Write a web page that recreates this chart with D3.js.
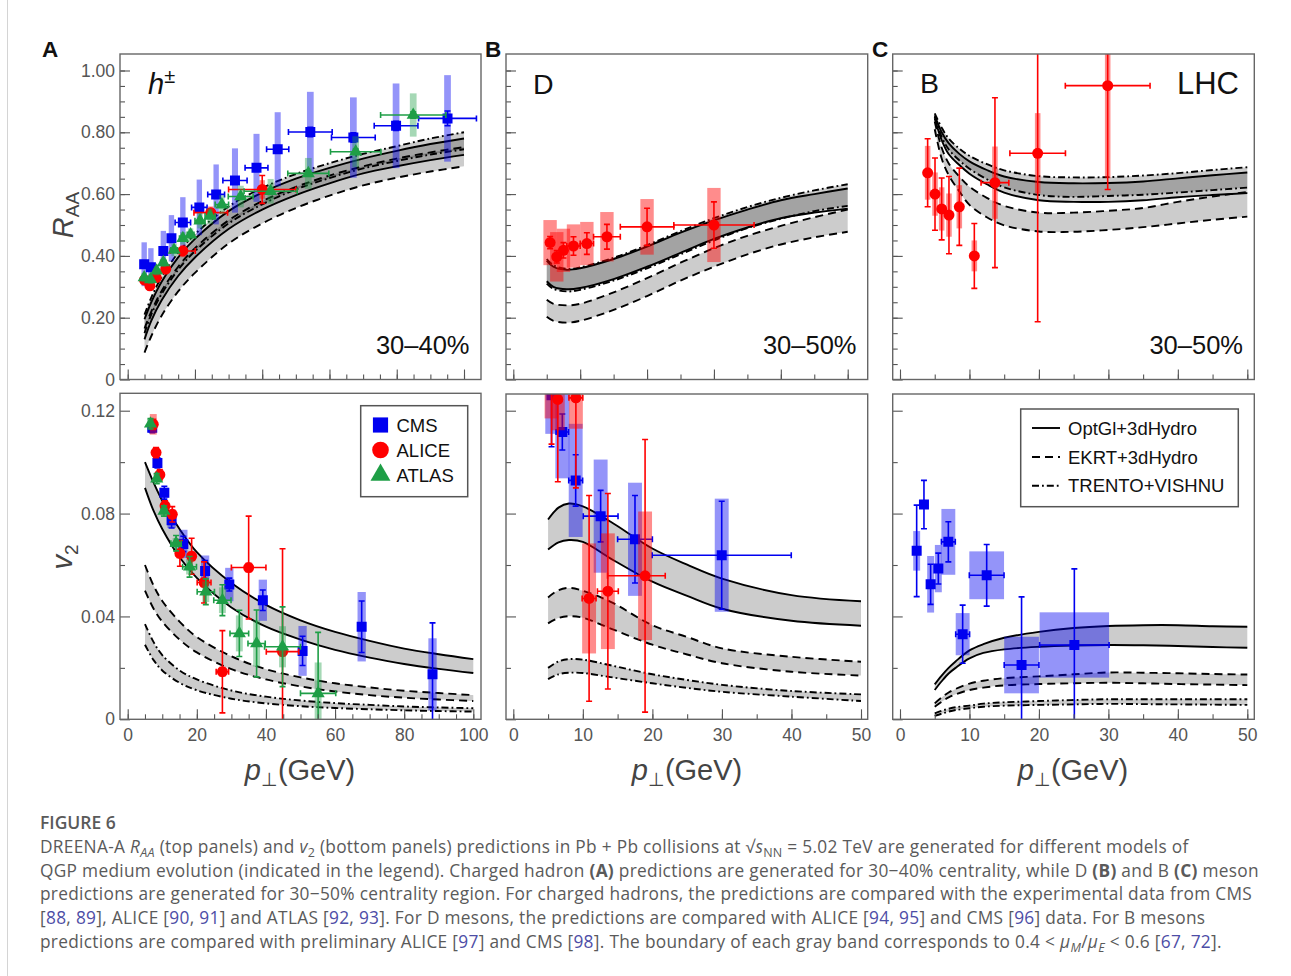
<!DOCTYPE html>
<html>
<head>
<meta charset="utf-8">
<script src="https://cdn.jsdelivr.net/npm/d3@7"></script>
<style>
  body { margin: 0; background: #fff; }
  svg { display: block; }
</style>
</head>
<body>
<svg id="fig" width="1291" height="976"></svg>
<script>
'use strict';

// ---------- model curves ----------
// charged hadrons, R_AA, 30-40%
const hRaaPt = [5, 7, 10, 15, 20, 30, 40, 50, 60, 70, 80, 90, 100];
const hRaaOptHi = [0.195, 0.25, 0.315, 0.395, 0.455, 0.545, 0.605, 0.65, 0.685, 0.715, 0.74, 0.762, 0.78];
const hRaaOptLo = [0.13, 0.19, 0.255, 0.335, 0.395, 0.487, 0.55, 0.597, 0.635, 0.667, 0.69, 0.71, 0.727];
const hRaaEkrtHi = [0.165, 0.22, 0.285, 0.365, 0.425, 0.515, 0.577, 0.623, 0.66, 0.69, 0.715, 0.735, 0.752];
const hRaaEkrtLo = [0.087, 0.14, 0.205, 0.285, 0.345, 0.44, 0.505, 0.555, 0.595, 0.628, 0.653, 0.673, 0.69];
const hRaaTrentoHi = [0.21, 0.265, 0.33, 0.41, 0.47, 0.56, 0.62, 0.665, 0.70, 0.73, 0.755, 0.78, 0.80];
const hRaaTrentoLo = [0.15, 0.21, 0.275, 0.355, 0.415, 0.505, 0.567, 0.615, 0.652, 0.683, 0.707, 0.728, 0.745];

// charged hadrons, v2
const hV2Pt = [5, 7.5, 10, 15, 20, 30, 40, 50, 60, 70, 80, 90, 100];
const hV2OptHi = [0.100, 0.092, 0.085, 0.074, 0.065, 0.053, 0.0445, 0.0385, 0.034, 0.0305, 0.0275, 0.0253, 0.0234];
const hV2OptLo = [0.090, 0.081, 0.074, 0.063, 0.055, 0.0435, 0.036, 0.031, 0.027, 0.024, 0.0215, 0.0196, 0.018];
const hV2EkrtHi = [0.060, 0.052, 0.046, 0.038, 0.032, 0.0245, 0.0195, 0.0163, 0.014, 0.0124, 0.0111, 0.0102, 0.0094];
const hV2EkrtLo = [0.050, 0.043, 0.038, 0.031, 0.026, 0.0195, 0.0155, 0.0128, 0.0108, 0.0094, 0.0084, 0.0077, 0.0071];
const hV2TrentoHi = [0.037, 0.030, 0.025, 0.019, 0.0155, 0.0112, 0.0088, 0.0073, 0.0063, 0.0056, 0.005, 0.0046, 0.0043];
const hV2TrentoLo = [0.029, 0.023, 0.019, 0.0142, 0.0113, 0.008, 0.0062, 0.0051, 0.0044, 0.0039, 0.0035, 0.0032, 0.003];

// D mesons, R_AA, 30-50%
const dRaaPt = [5, 6, 8, 10, 15, 20, 25, 30, 35, 40, 45, 50];
const dRaaOptHi = [0.385, 0.365, 0.355, 0.36, 0.39, 0.43, 0.475, 0.515, 0.55, 0.58, 0.60, 0.618];
const dRaaOptLo = [0.318, 0.30, 0.292, 0.296, 0.325, 0.365, 0.41, 0.455, 0.492, 0.522, 0.54, 0.553];
const dRaaEkrtHi = [0.258, 0.245, 0.24, 0.245, 0.282, 0.328, 0.378, 0.425, 0.465, 0.497, 0.525, 0.55];
const dRaaEkrtLo = [0.203, 0.19, 0.184, 0.19, 0.225, 0.27, 0.32, 0.365, 0.405, 0.437, 0.46, 0.478];
const dRaaTrentoHi = [0.39, 0.37, 0.358, 0.363, 0.394, 0.435, 0.48, 0.522, 0.558, 0.588, 0.612, 0.632];
const dRaaTrentoLo = [0.31, 0.293, 0.285, 0.29, 0.32, 0.36, 0.405, 0.45, 0.49, 0.52, 0.545, 0.562];

// D mesons, v2
const dV2Pt = [5, 6.5, 8, 10, 14, 20, 25, 30, 40, 50];
const dV2OptHi = [0.0777, 0.0823, 0.0839, 0.0828, 0.0768, 0.0664, 0.0601, 0.0547, 0.0483, 0.0459];
const dV2OptLo = [0.066, 0.0688, 0.0697, 0.069, 0.0625, 0.0535, 0.048, 0.043, 0.0383, 0.0364];
const dV2EkrtHi = [0.0474, 0.0502, 0.0511, 0.050, 0.0457, 0.0366, 0.032, 0.0276, 0.0243, 0.0224];
const dV2EkrtLo = [0.0373, 0.0394, 0.0401, 0.0395, 0.0353, 0.029, 0.0252, 0.0218, 0.0185, 0.017];
const dV2TrentoHi = [0.020, 0.0225, 0.0234, 0.0232, 0.021, 0.0175, 0.0153, 0.0134, 0.011, 0.0097];
const dV2TrentoLo = [0.0156, 0.0175, 0.0181, 0.018, 0.0164, 0.014, 0.0122, 0.0107, 0.0088, 0.0071];

// B mesons, R_AA, 30-50%
const bRaaPt = [5, 6, 7, 8.5, 10, 12.5, 15, 20, 25, 30, 35, 40, 45, 50];
const bRaaOptHi = [0.855, 0.80, 0.765, 0.731, 0.706, 0.678, 0.657, 0.639, 0.635, 0.636, 0.641, 0.651, 0.661, 0.670];
const bRaaOptLo = [0.845, 0.775, 0.73, 0.695, 0.666, 0.632, 0.605, 0.580, 0.575, 0.575, 0.580, 0.590, 0.597, 0.603];
const bRaaEkrtHi = [0.835, 0.75, 0.70, 0.658, 0.624, 0.588, 0.562, 0.540, 0.540, 0.546, 0.555, 0.575, 0.592, 0.607];
const bRaaEkrtLo = [0.81, 0.715, 0.662, 0.610, 0.565, 0.525, 0.499, 0.479, 0.478, 0.484, 0.493, 0.505, 0.517, 0.527];
const bRaaTrentoHi = [0.861, 0.815, 0.78, 0.748, 0.724, 0.697, 0.677, 0.658, 0.654, 0.655, 0.66, 0.668, 0.678, 0.687];
const bRaaTrentoLo = [0.85, 0.785, 0.745, 0.71, 0.682, 0.648, 0.622, 0.597, 0.591, 0.594, 0.598, 0.605, 0.613, 0.621];

// B mesons, v2
const bV2Pt = [5, 6, 7, 8, 10, 12, 15, 20, 25, 30, 35, 40, 45, 50];
const bV2OptHi = [0.0136, 0.017, 0.020, 0.0225, 0.0268, 0.0292, 0.0317, 0.034, 0.0355, 0.0363, 0.0366, 0.0366, 0.0362, 0.036];
const bV2OptLo = [0.0114, 0.0148, 0.0178, 0.020, 0.0237, 0.0258, 0.0272, 0.0282, 0.0287, 0.0289, 0.0288, 0.0285, 0.0281, 0.0278];
const bV2EkrtHi = [0.0062, 0.0085, 0.0104, 0.0118, 0.0139, 0.015, 0.016, 0.0167, 0.0175, 0.0182, 0.0181, 0.0179, 0.0176, 0.0174];
const bV2EkrtLo = [0.0049, 0.0068, 0.0085, 0.0097, 0.0114, 0.0123, 0.0132, 0.0137, 0.014, 0.0142, 0.014, 0.0137, 0.0135, 0.0133];
const bV2TrentoHi = [0.0023, 0.0033, 0.0041, 0.0047, 0.0053, 0.0061, 0.0066, 0.0071, 0.0075, 0.0078, 0.0078, 0.0078, 0.0078, 0.0078];
const bV2TrentoLo = [0.0013, 0.0022, 0.003, 0.0036, 0.0043, 0.0049, 0.0053, 0.0056, 0.0058, 0.006, 0.0059, 0.0058, 0.0057, 0.0056];

// ---------- experimental points ----------
// row: [pt, value, xerr low, xerr high, stat err, sys err, sys box half width (GeV)]
const hRaaCms = [
  [4.9, 0.373, 0.5, 0.5, 0.005, 0.071, 0.8], [6.9, 0.363, 0.5, 0.5, 0.005, 0.062, 0.8],
  [10.6, 0.416, 1, 1, 0.006, 0.065, 0.8], [13, 0.457, 1, 1, 0.006, 0.075, 0.8],
  [16.4, 0.508, 2.3, 2.3, 0.007, 0.082, 0.8], [21.3, 0.557, 2.3, 2.3, 0.008, 0.09, 0.8],
  [26.3, 0.599, 2.5, 2.5, 0.008, 0.097, 0.8], [31.9, 0.644, 3.6, 3.6, 0.009, 0.104, 0.9],
  [38.3, 0.685, 3.4, 3.4, 0.01, 0.11, 0.9], [44.6, 0.745, 3.3, 3.3, 0.012, 0.12, 0.9],
  [54.3, 0.801, 6.5, 6.5, 0.015, 0.13, 1], [67.1, 0.783, 6.5, 6.5, 0.015, 0.13, 1],
  [79.8, 0.821, 6.5, 6.5, 0.015, 0.137, 1], [95.1, 0.845, 8.6, 8.6, 0.024, 0.14, 1]
];
const hRaaAlice = [
  [5, 0.322, 0.5, 0.5, 0.005, 0.015, 0.8], [6.6, 0.303, 0.5, 0.5, 0.005, 0.015, 0.8],
  [8.5, 0.33, 0.5, 0.5, 0.005, 0.015, 0.8], [11.3, 0.357, 1, 1, 0.006, 0.015, 0.8],
  [16.4, 0.416, 3.7, 3.7, 0.008, 0.02, 0.8], [24.7, 0.54, 5, 5, 0.012, 0.02, 0.8],
  [40, 0.615, 10, 10, 0.045, 0.03, 0.8]
];
const hRaaAtlas = [
  [4.9, 0.33, 0.4, 0.4, 0.005, 0.015, 0.8], [6.8, 0.324, 0.5, 0.5, 0.005, 0.015, 0.8],
  [8.6, 0.352, 0.5, 0.5, 0.005, 0.015, 0.8], [10.6, 0.379, 0.8, 0.8, 0.005, 0.015, 0.8],
  [13.8, 0.419, 1, 1, 0.005, 0.02, 0.8], [16.4, 0.457, 1, 1, 0.005, 0.02, 0.8],
  [18.7, 0.469, 1, 1, 0.005, 0.02, 0.8], [21.5, 0.514, 1.5, 1.5, 0.006, 0.025, 0.8],
  [24.5, 0.529, 1.5, 1.5, 0.006, 0.025, 0.8], [28, 0.566, 2, 2, 0.006, 0.03, 0.8],
  [33.6, 0.592, 3.7, 3.7, 0.007, 0.035, 0.9], [42.5, 0.609, 7.9, 7.9, 0.008, 0.04, 0.9],
  [53.7, 0.667, 6.1, 6.1, 0.008, 0.05, 1], [67.8, 0.737, 7.5, 7.5, 0.009, 0.05, 1],
  [84.9, 0.856, 9.7, 9.7, 0.01, 0.07, 1]
];

const hV2Cms = [
  [7.1, 0.1134, 0.5, 0.5, 0.002, 0.002, 1.2], [8.6, 0.0997, 0.5, 0.5, 0.002, 0.002, 1.2],
  [10.6, 0.0881, 0.5, 0.5, 0.0025, 0.002, 1.2], [12.7, 0.0774, 0.5, 0.5, 0.003, 0.003, 1.2],
  [16.1, 0.0682, 0.5, 0.5, 0.003, 0.0055, 1.2], [22.4, 0.0577, 0.5, 0.5, 0.004, 0.006, 1.2],
  [29.4, 0.0524, 0.5, 0.5, 0.0025, 0.0065, 1.2], [39.1, 0.0463, 0.5, 0.5, 0.004, 0.008, 1.2],
  [50.6, 0.0266, 1, 1, 0.0057, 0.0097, 1.2], [67.7, 0.036, 0.5, 0.5, 0.01, 0.0135, 1.2],
  [88.2, 0.0175, 0.5, 0.5, 0.02, 0.014, 1.2]
];
const hV2Alice = [
  [7.4, 0.1147, 0.4, 0.4, 0.002, 0.004, 1], [8.2, 0.1037, 0.4, 0.4, 0.002, 0.002, 1],
  [9.3, 0.0951, 0.4, 0.4, 0.002, 0.002, 1], [10.8, 0.083, 0.5, 0.5, 0.002, 0.002, 1],
  [12.9, 0.0797, 0.5, 0.5, 0.003, 0.002, 1], [15.1, 0.0645, 1, 1, 0.005, 0.002, 1],
  [18.5, 0.0634, 1, 1, 0.007, 0.002, 1], [22.1, 0.0532, 2, 2, 0.008, 0.002, 1],
  [27.4, 0.0185, 1.8, 1.8, 0.016, 0.002, 1], [35, 0.059, 5, 5, 0.02, 0.002, 1],
  [44.8, 0.0263, 4.7, 4.7, 0.04, 0.002, 1]
];
const hV2Atlas = [
  [6.6, 0.1149, 0.4, 0.4, 0.002, 0.002, 1], [8.4, 0.0936, 0.5, 0.5, 0.002, 0.002, 1],
  [10.5, 0.081, 0.8, 0.8, 0.002, 0.002, 1], [14, 0.0685, 1.5, 1.5, 0.003, 0.002, 1],
  [17.9, 0.0593, 2, 2, 0.004, 0.003, 1], [22.6, 0.0496, 2.5, 2.5, 0.005, 0.004, 1],
  [27.4, 0.0463, 2.5, 2.5, 0.006, 0.005, 1], [32.3, 0.0334, 2.7, 2.7, 0.009, 0.007, 1],
  [37.3, 0.0295, 2.5, 2.5, 0.013, 0.009, 1], [44.8, 0.0282, 5.2, 5.2, 0.0155, 0.008, 1],
  [55.1, 0.0101, 5.1, 5.1, 0.0237, 0.012, 1]
];

const dRaaAlice = [
  [5.5, 0.443, 0.5, 0.5, 0.02, 0.073, 1], [6.5, 0.397, 0.5, 0.5, 0.02, 0.08, 1],
  [7.5, 0.418, 0.5, 0.5, 0.025, 0.07, 1], [9, 0.432, 1, 1, 0.03, 0.07, 1],
  [11, 0.44, 1, 1, 0.035, 0.07, 1], [14, 0.462, 2, 2, 0.04, 0.08, 1],
  [20, 0.494, 4, 4, 0.06, 0.09, 1], [30, 0.5, 6, 6, 0.075, 0.12, 1]
];
const dV2Cms = [
  [5.5, 0.126, 0.5, 0.5, 0.02, 0.015, 0.9], [7.05, 0.1117, 0.9, 0.9, 0.007, 0.018, 1],
  [8.97, 0.0929, 1, 1, 0.01, 0.022, 1], [12.56, 0.079, 2.5, 2.5, 0.01, 0.022, 1],
  [17.5, 0.07, 2.5, 2.5, 0.017, 0.022, 1], [29.97, 0.0638, 10, 10, 0.021, 0.022, 1]
];
const dV2Alice = [
  [5.5, 0.129, 0.5, 0.5, 0.022, 0.012, 1], [6.4, 0.1244, 0.5, 0.5, 0.032, 0.012, 1],
  [9, 0.125, 1, 1, 0.035, 0.012, 1], [10.9, 0.047, 1, 1, 0.04, 0.0214, 1],
  [13.6, 0.0498, 1.5, 1.5, 0.038, 0.0225, 1], [18.95, 0.0558, 5.4, 2.9, 0.053, 0.025, 1]
];

const bRaaAlice = [
  [3.98, 0.669, 0, 0, 0.11, 0.087, 0.4], [5.04, 0.6, 0, 0, 0.117, 0.07, 0.4],
  [6.0, 0.552, 0, 0, 0.1, 0.07, 0.4], [7.05, 0.532, 0, 0, 0.125, 0.07, 0.4],
  [8.54, 0.559, 0, 0, 0.125, 0.07, 0.4], [10.7, 0.4, 0, 0, 0.105, 0.05, 0.4],
  [13.67, 0.637, 2, 2, 0.275, 0.117, 0.4], [19.82, 0.732, 4, 4, 0.545, 0.13, 0.4],
  [29.9, 0.951, 6.1, 6.1, 0.336, 0.3, 0.4]
];
const bV2Cms = [
  [2.4, 0.0655, 0, 0, 0.0178, 0.0077, 0.5], [3.45, 0.0835, 0, 0, 0.0094, 0, 0.5],
  [4.41, 0.0525, 0.5, 0.5, 0.0078, 0.011, 0.5], [5.52, 0.0586, 0.5, 0.5, 0.006, 0.0092, 0.5],
  [6.96, 0.069, 1, 1, 0.0078, 0.0128, 1], [9.02, 0.0331, 1, 1, 0.0113, 0.0082, 1],
  [12.48, 0.056, 2.5, 2.5, 0.012, 0.0093, 2.5], [17.5, 0.0211, 2.5, 2.5, 0.0265, 0.011, 2.5],
  [25.1, 0.0289, 5, 5, 0.0296, 0.0127, 5]
];

// ticks
const raaMajor = [0, 0.2, 0.4, 0.6, 0.8, 1.0];
const raaMinor = d3.range(1, 21).map(i => i * 0.05);
const v2Major = [0, 0.04, 0.08, 0.12];
const v2Minor = [0.02, 0.06, 0.1];
const hPtMajor = [0, 20, 40, 60, 80, 100];
const hPtMinor = d3.range(0, 101, 5);
const qPtMajor = [0, 10, 20, 30, 40, 50];
const qPtMinor = d3.range(0, 51, 5);

// ---------- styling ----------
const FONT = '"Liberation Sans", Arial, Helvetica, sans-serif';
const GRAY = '#555';
const EXP = {
  cms: { color: '#0000f0', sysOpacity: 0.42, shape: d3.symbolSquare, size: 100 },
  alice: { color: '#ff0000', sysOpacity: 0.45, shape: d3.symbolCircle, size: 95 },
  atlas: { color: '#1e9e46', sysOpacity: 0.4, shape: d3.symbolTriangle, size: 75 }
};
const DASH = { opt: null, ekrt: '8,5', trento: '7,3,1.8,3' };

const svg = d3.select('#fig').attr('font-family', FONT);

// page border line on the left
svg.append('line').attr('x1', 7.5).attr('x2', 7.5).attr('y1', 0).attr('y2', 976)
  .attr('stroke', '#d4d4d4').attr('stroke-width', 1);

const yRaa = d3.scaleLinear().domain([0, 1]).range([379.5, 70.5]);
const yV2 = d3.scaleLinear().domain([0, 0.12]).range([719.3, 410.7]);

const panels = [
  { frame: [120, 54, 481, 379.5], x: d3.scaleLinear().domain([0, 100]).range([127.7, 464]), y: yRaa,
    xMaj: hPtMajor, xMin: hPtMinor, yMaj: raaMajor, yMin: raaMinor, xLab: false, yLab: true,
    pt: hRaaPt, opt: [hRaaOptHi, hRaaOptLo], ekrt: [hRaaEkrtHi, hRaaEkrtLo], trento: [hRaaTrentoHi, hRaaTrentoLo],
    sets: [[hRaaCms, 'cms'], [hRaaAlice, 'alice'], [hRaaAtlas, 'atlas']] },
  { frame: [120, 393.3, 481, 719.3], x: d3.scaleLinear().domain([0, 100]).range([127.7, 473.3]), y: yV2,
    xMaj: hPtMajor, xMin: hPtMinor, yMaj: v2Major, yMin: v2Minor, xLab: true, yLab: true,
    pt: hV2Pt, opt: [hV2OptHi, hV2OptLo], ekrt: [hV2EkrtHi, hV2EkrtLo], trento: [hV2TrentoHi, hV2TrentoLo],
    sets: [[hV2Cms, 'cms'], [hV2Alice, 'alice'], [hV2Atlas, 'atlas']] },
  { frame: [506, 54, 867.7, 379.5], x: d3.scaleLinear().domain([0, 50]).range([513.3, 847.7]), y: yRaa,
    xMaj: qPtMajor, xMin: qPtMinor, yMaj: raaMajor, yMin: raaMinor, xLab: false, yLab: false,
    pt: dRaaPt, opt: [dRaaOptHi, dRaaOptLo], ekrt: [dRaaEkrtHi, dRaaEkrtLo], trento: [dRaaTrentoHi, dRaaTrentoLo],
    sets: [[dRaaAlice, 'alice']] },
  { frame: [506, 394, 867.7, 719.3], x: d3.scaleLinear().domain([0, 50]).range([513.3, 861]), y: yV2,
    xMaj: qPtMajor, xMin: qPtMinor, yMaj: v2Major, yMin: v2Minor, xLab: true, yLab: false,
    pt: dV2Pt, opt: [dV2OptHi, dV2OptLo], ekrt: [dV2EkrtHi, dV2EkrtLo], trento: [dV2TrentoHi, dV2TrentoLo],
    sets: [[dV2Cms, 'cms'], [dV2Alice, 'alice']] },
  { frame: [892.7, 54, 1254.3, 379.5], x: d3.scaleLinear().domain([0, 50]).range([900, 1247.3]), y: yRaa,
    xMaj: qPtMajor, xMin: qPtMinor, yMaj: raaMajor, yMin: raaMinor, xLab: false, yLab: false,
    pt: bRaaPt, opt: [bRaaOptHi, bRaaOptLo], ekrt: [bRaaEkrtHi, bRaaEkrtLo], trento: [bRaaTrentoHi, bRaaTrentoLo],
    sets: [[bRaaAlice, 'alice']] },
  { frame: [892.7, 394, 1254.3, 719.3], x: d3.scaleLinear().domain([0, 50]).range([900, 1247.3]), y: yV2,
    xMaj: qPtMajor, xMin: qPtMinor, yMaj: v2Major, yMin: v2Minor, xLab: true, yLab: false,
    pt: bV2Pt, opt: [bV2OptHi, bV2OptLo], ekrt: [bV2EkrtHi, bV2EkrtLo], trento: [bV2TrentoHi, bV2TrentoLo],
    sets: [[bV2Cms, 'cms']] }
];

function styleAxis(s) {
  s.select('.domain').remove();
  s.attr('font-family', FONT).attr('font-size', 17.5);
  s.selectAll('line').attr('stroke', GRAY).attr('stroke-width', 1.1);
  s.selectAll('text').attr('fill', GRAY);
}

function drawBands(g, p) {
  const area = d3.area().curve(d3.curveCatmullRom)
    .x(d => p.x(d[0])).y0(d => p.y(d[2])).y1(d => p.y(d[1]));
  ['opt', 'ekrt', 'trento'].forEach(m => {
    const rows = p.pt.map((t, i) => [t, p[m][0][i], p[m][1][i]]);
    g.append('path').datum(rows).attr('d', area)
      .attr('fill', '#000').attr('fill-opacity', 0.2).attr('stroke', 'none');
  });
  const line = d3.line().curve(d3.curveCatmullRom).x(d => p.x(d[0])).y(d => p.y(d[1]));
  ['trento', 'ekrt', 'opt'].forEach(m => {
    [0, 1].forEach(k => {
      const rows = p.pt.map((t, i) => [t, p[m][k][i]]);
      g.append('path').datum(rows).attr('d', line)
        .attr('fill', 'none').attr('stroke', '#000').attr('stroke-width', 1.9)
        .attr('stroke-dasharray', DASH[m]);
    });
  });
}

function drawPoints(g, p, rows, kind) {
  const st = EXP[kind];
  const cap = 3;
  const grp = g.append('g');
  rows.forEach(r => {
    const [pt, v, exl, exh, stat, sys, sw] = r;
    if (sys > 0) {
      grp.append('rect')
        .attr('x', p.x(pt - sw)).attr('width', p.x(pt + sw) - p.x(pt - sw))
        .attr('y', p.y(v + sys)).attr('height', p.y(v - sys) - p.y(v + sys))
        .attr('fill', st.color).attr('fill-opacity', st.sysOpacity);
    }
  });
  rows.forEach(r => {
    const [pt, v, exl, exh, stat] = r;
    const cx = p.x(pt), cy = p.y(v);
    const e = grp.append('g').attr('stroke', st.color).attr('stroke-width', 1.6);
    if (exl > 0 || exh > 0) {
      const x0 = p.x(pt - exl), x1 = p.x(pt + exh);
      e.append('line').attr('x1', x0).attr('x2', x1).attr('y1', cy).attr('y2', cy);
      e.append('line').attr('x1', x0).attr('x2', x0).attr('y1', cy - cap).attr('y2', cy + cap);
      e.append('line').attr('x1', x1).attr('x2', x1).attr('y1', cy - cap).attr('y2', cy + cap);
    }
    if (stat > 0) {
      const y0 = p.y(v - stat), y1 = p.y(v + stat);
      e.append('line').attr('x1', cx).attr('x2', cx).attr('y1', y0).attr('y2', y1);
      e.append('line').attr('x1', cx - cap).attr('x2', cx + cap).attr('y1', y0).attr('y2', y0);
      e.append('line').attr('x1', cx - cap).attr('x2', cx + cap).attr('y1', y1).attr('y2', y1);
    }
    grp.append('path').attr('d', d3.symbol().type(st.shape).size(st.size)())
      .attr('transform', `translate(${cx},${cy})`).attr('fill', st.color);
  });
}

panels.forEach((p, i) => {
  const [x0, y0, x1, y1] = p.frame;
  const clipId = 'clip' + i;
  svg.append('clipPath').attr('id', clipId)
    .append('rect').attr('x', x0).attr('y', y0).attr('width', x1 - x0).attr('height', y1 - y0);

  const plot = svg.append('g').attr('clip-path', `url(#${clipId})`);
  drawBands(plot, p);
  p.sets.forEach(([rows, kind]) => drawPoints(plot, p, rows, kind));

  // axes with inward ticks
  const yFmt = p.yLab ? (d => d === 0 ? '0' : d3.format('.2f')(d)) : '';
  svg.append('g').attr('transform', `translate(${x0},0)`)
    .call(d3.axisLeft(p.y).tickValues(p.yMaj).tickSizeInner(-10).tickSizeOuter(0).tickPadding(5).tickFormat(yFmt))
    .call(styleAxis);
  svg.append('g').attr('transform', `translate(${x0},0)`)
    .call(d3.axisLeft(p.y).tickValues(p.yMin).tickSizeInner(-5).tickSizeOuter(0).tickFormat(''))
    .call(styleAxis);
  svg.append('g').attr('transform', `translate(0,${y1})`)
    .call(d3.axisBottom(p.x).tickValues(p.xMaj).tickSizeInner(-10).tickSizeOuter(0).tickPadding(9)
      .tickFormat(p.xLab ? d3.format('d') : ''))
    .call(styleAxis);
  svg.append('g').attr('transform', `translate(0,${y1})`)
    .call(d3.axisBottom(p.x).tickValues(p.xMin).tickSizeInner(-5).tickSizeOuter(0).tickFormat(''))
    .call(styleAxis);

  svg.append('rect').attr('x', x0).attr('y', y0).attr('width', x1 - x0).attr('height', y1 - y0)
    .attr('fill', 'none').attr('stroke', '#666').attr('stroke-width', 1.4);
});

// ---------- labels ----------
const lab = svg.append('g').attr('fill', '#111');
[['A', 42], ['B', 485], ['C', 872]].forEach(([t, x]) => {
  lab.append('text').attr('x', x).attr('y', 56.5).attr('font-size', 22.5).attr('font-weight', 'bold').text(t);
});

const hl = lab.append('text').attr('x', 148).attr('y', 93.5).attr('font-size', 29);
hl.append('tspan').attr('font-style', 'italic').text('h');
hl.append('tspan').attr('font-size', 20).attr('dy', -11).text('±');
lab.append('text').attr('x', 533).attr('y', 93.5).attr('font-size', 28.5).text('D');
lab.append('text').attr('x', 920).attr('y', 93).attr('font-size', 28.5).text('B');
lab.append('text').attr('x', 1239).attr('y', 93.5).attr('font-size', 31).attr('text-anchor', 'end').text('LHC');
[['30–40%', 469.5], ['30–50%', 856.5], ['30–50%', 1243]].forEach(([t, x]) => {
  lab.append('text').attr('x', x).attr('y', 353.5).attr('font-size', 25.5).attr('text-anchor', 'end').text(t);
});

// axis titles
const ra = lab.append('text').attr('transform', 'translate(73,215) rotate(-90)')
  .attr('text-anchor', 'middle').attr('font-size', 29).attr('fill', '#444');
ra.append('tspan').attr('font-style', 'italic').text('R');
ra.append('tspan').attr('font-size', 19).attr('dy', 6).text('AA');
const va = lab.append('text').attr('transform', 'translate(72,557) rotate(-90)')
  .attr('text-anchor', 'middle').attr('font-size', 29).attr('fill', '#444');
va.append('tspan').attr('font-style', 'italic').text('v');
va.append('tspan').attr('font-size', 19).attr('dy', 6).text('2');
[300, 687, 1073].forEach(cx => {
  const t = lab.append('text').attr('x', cx).attr('y', 780).attr('text-anchor', 'middle')
    .attr('font-size', 29).attr('fill', '#444');
  t.append('tspan').attr('font-style', 'italic').text('p');
  t.append('tspan').attr('font-size', 19).attr('dy', 6).text('⊥');
  t.append('tspan').attr('dy', -6).text('(GeV)');
});

// legend, panel A bottom
const legA = svg.append('g');
legA.append('rect').attr('x', 360.7).attr('y', 405.7).attr('width', 107).attr('height', 91)
  .attr('fill', '#fff').attr('stroke', GRAY).attr('stroke-width', 1.5);
[['CMS', 'cms', 425], ['ALICE', 'alice', 450], ['ATLAS', 'atlas', 475]].forEach(([t, k, y]) => {
  legA.append('path').attr('d', d3.symbol().type(EXP[k].shape).size(EXP[k].size * 2.3)())
    .attr('transform', `translate(380.5,${y})`).attr('fill', EXP[k].color);
  legA.append('text').attr('x', 396.5).attr('y', y + 6.7).attr('font-size', 18.5).attr('fill', '#111').text(t);
});

// legend, panel C bottom
const legC = svg.append('g');
legC.append('rect').attr('x', 1020.7).attr('y', 409).attr('width', 217.6).attr('height', 97.7)
  .attr('fill', '#fff').attr('stroke', GRAY).attr('stroke-width', 1.5);
[['OptGl+3dHydro', 'opt', 428], ['EKRT+3dHydro', 'ekrt', 457], ['TRENTO+VISHNU', 'trento', 485.7]].forEach(([t, k, y]) => {
  legC.append('line').attr('x1', 1032).attr('x2', 1060).attr('y1', y).attr('y2', y)
    .attr('stroke', '#000').attr('stroke-width', 1.9).attr('stroke-dasharray', DASH[k]);
  legC.append('text').attr('x', 1068).attr('y', y + 6.5).attr('font-size', 18.5).attr('fill', '#111').text(t);
});

// ---------- caption ----------
const CAP = '#5a5a5a', REF = '#4d4da6';
const capLines = [
  [['DREENA-A ', 'n'], ['R', 'i'], ['AA', 'is'], [' (top panels) and ', 'n'], ['v', 'i'], ['2', 's'],
   [' (bottom panels) predictions in Pb + Pb collisions at ', 'n'], ['√', 'n'], ['s', 'i'], ['NN', 's'],
   [' = 5.02 TeV are generated for different models of', 'n']],
  [['QGP medium evolution (indicated in the legend). Charged hadron ', 'n'], ['(A)', 'b'],
   [' predictions are generated for 30−40% centrality, while D ', 'n'], ['(B)', 'b'], [' and B ', 'n'], ['(C)', 'b'], [' meson', 'n']],
  [['predictions are generated for 30−50% centrality region. For charged hadrons, the predictions are compared with the experimental data from CMS', 'n']],
  [['[', 'n'], ['88', 'r'], [', ', 'n'], ['89', 'r'], ['], ALICE [', 'n'], ['90', 'r'], [', ', 'n'], ['91', 'r'],
   ['] and ATLAS [', 'n'], ['92', 'r'], [', ', 'n'], ['93', 'r'], [']. For D mesons, the predictions are compared with ALICE [', 'n'],
   ['94', 'r'], [', ', 'n'], ['95', 'r'], ['] and CMS [', 'n'], ['96', 'r'], ['] data. For B mesons', 'n']],
  [['predictions are compared with preliminary ALICE [', 'n'], ['97', 'r'], ['] and CMS [', 'n'], ['98', 'r'],
   [']. The boundary of each gray band corresponds to 0.4 < ', 'n'], ['μ', 'i'], ['M', 'is'], ['/', 'n'], ['μ', 'i'], ['E', 'is'],
   [' < 0.6 [', 'n'], ['67', 'r'], [', ', 'n'], ['72', 'r'], ['].', 'n']]
];

const cap = svg.append('g').attr('font-family', '"Open Sans", "Noto Sans", sans-serif').attr('fill', CAP);
cap.append('text').attr('x', 40).attr('y', 828.5).attr('font-size', 17.5).attr('font-weight', 600).text('FIGURE 6');
capLines.forEach((segs, li) => {
  const t = cap.append('text').attr('x', 40).attr('y', 853 + li * 23.7)
    .attr('font-size', 17.3).attr('letter-spacing', 0.3);
  let shift = 0;
  segs.forEach(([s, f]) => {
    const sp = t.append('tspan').text(s);
    const want = f.includes('s') ? 4 : 0;
    if (want !== shift) { sp.attr('dy', want - shift); shift = want; }
    if (f.includes('s')) sp.attr('font-size', 12.5);
    if (f.includes('i')) sp.attr('font-style', 'italic');
    if (f.includes('b')) sp.attr('font-weight', 'bold');
    if (f.includes('r')) sp.attr('fill', REF);
  });
});
</script>
</body>
</html>
